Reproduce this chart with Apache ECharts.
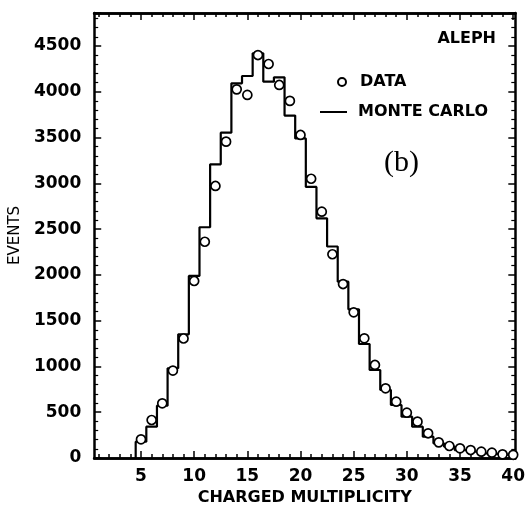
<!DOCTYPE html>
<html>
<head>
<meta charset="utf-8">
<script src="https://cdn.jsdelivr.net/npm/echarts@6/dist/echarts.min.js"></script>
<style>
  html, body { margin: 0; padding: 0; background: #fff; }
  #chart { width: 528px; height: 514px; }
</style>
</head>
<body>
<div id="chart"></div>
<script>
// charged multiplicity bins (one per integer)
const multiplicity = [5, 6, 7, 8, 9, 10, 11, 12, 13, 14, 15, 16, 17, 18, 19, 20, 21, 22,
  23, 24, 25, 26, 27, 28, 29, 30, 31, 32, 33, 34, 35, 36, 37, 38, 39, 40]
// measured events (circles)
const dataEvents = [204, 415, 597, 955, 1305, 1933, 2362, 2971, 3455, 4026, 3965, 4401, 4303, 4074,
  3900, 3528, 3050, 2690, 2225, 1900, 1591, 1307, 1016, 761, 615, 495, 397, 270, 171, 131,
  106, 87, 69, 58, 40, 35]
// monte carlo prediction (histogram)
const mcEvents = [178, 342, 571, 980, 1351, 1988, 2520, 3207, 3553, 4092, 4172, 4420, 4110, 4158,
  3740, 3490, 2960, 2618, 2310, 1926, 1624, 1245, 961, 743, 579, 451, 342, 233, 160, 124,
  87, 69, 51, 44, 36, 30]
const xLabels = [5, 10, 15, 20, 25, 30, 35, 40]
const xMinor = [1, 2, 3, 4, 5, 6, 7, 8, 9, 10, 11, 12, 13, 14, 15, 16, 17, 18, 19, 20,
  21, 22, 23, 24, 25, 26, 27, 28, 29, 30, 31, 32, 33, 34, 35, 36, 37, 38, 39, 40]

const font = 'DejaVu Sans'
const chart = echarts.init(document.getElementById('chart'), null, { renderer: 'canvas' })

// histogram outline: each bin spans n-0.5 .. n+0.5
const mcStep = [[multiplicity[0] - 0.5, 0]]
multiplicity.forEach((n, i) => {
  mcStep.push([n - 0.5, mcEvents[i]])
  mcStep.push([n + 0.5, mcEvents[i]])
})
const circles = multiplicity.map((n, i) => [n, dataEvents[i]])

const frame = { show: true, onZero: false, lineStyle: { color: '#000', width: 2.5 } }
const xBase = { type: 'value', min: 0.6, max: 40.2, splitLine: { show: false }, axisLine: frame }

const makeX = (position, major, labels) => Object.assign({}, xBase, {
  position,
  axisTick: {
    show: true, inside: true, length: major ? 7 : 4,
    lineStyle: { color: '#000', width: 1.5 },
    customValues: major ? xLabels : xMinor
  },
  axisLabel: labels ? {
    show: true, customValues: xLabels, margin: 10,
    color: '#000', fontFamily: font, fontWeight: 'bold', fontSize: 17
  } : { show: false }
})

const yBase = {
  type: 'value', min: 0, max: 4860, interval: 500,
  splitLine: { show: false }, axisLine: frame,
  axisTick: { show: true, inside: true, length: 7, lineStyle: { color: '#000', width: 1.5 } },
  minorTick: { show: true, splitNumber: 5, length: 4, lineStyle: { color: '#000', width: 1.2 } }
}

chart.setOption({
  animation: false,
  backgroundColor: '#fff',
  grid: { left: 93, right: 10, top: 13, bottom: 56 },
  xAxis: [
    Object.assign(makeX('bottom', true, true), {
      name: 'CHARGED MULTIPLICITY', nameLocation: 'middle', nameGap: 28,
      nameTextStyle: { color: '#000', fontFamily: font, fontWeight: 'bold', fontSize: 16 }
    }),
    makeX('bottom', false, false),
    makeX('top', true, false),
    makeX('top', false, false)
  ],
  yAxis: [
    Object.assign({}, yBase, {
      position: 'left',
      axisLabel: {
        show: true, showMaxLabel: false, margin: 13,
        formatter: v => String(v),
        color: '#000', fontFamily: font, fontWeight: 'bold', fontSize: 17
      },
      name: 'EVENTS', nameLocation: 'middle', nameGap: 60,
      nameTextStyle: { color: '#000', fontFamily: font, fontSize: 15 }
    }),
    Object.assign({}, yBase, { position: 'right', axisLabel: { show: false } })
  ],
  legend: [
    {
      data: ['DATA'], left: 337, top: 74, padding: 0,
      itemWidth: 8, itemHeight: 8,
      textStyle: { color: '#000', fontFamily: font, fontWeight: 'bold', fontSize: 16, padding: [0, 0, 0, 9] }
    },
    {
      data: [{ name: 'MONTE CARLO', icon: 'rect' }], left: 320, top: 104, padding: 0,
      itemWidth: 27, itemHeight: 2,
      textStyle: { color: '#000', fontFamily: font, fontWeight: 'bold', fontSize: 16, padding: [0, 0, 0, 6] }
    }
  ],
  graphic: [
    {
      type: 'text', right: 32, top: 31,
      style: { text: 'ALEPH', fill: '#000', font: 'bold 16px "DejaVu Sans"' }
    },
    {
      type: 'text', left: 384, top: 148,
      style: { text: '(b)', fill: '#000', font: '30px "Liberation Serif"' }
    }
  ],
  series: [
    {
      name: 'MONTE CARLO', type: 'line', data: mcStep,
      symbol: 'none', showSymbol: false, z: 2,
      lineStyle: { color: '#000', width: 2.2 },
      itemStyle: { color: '#000' }
    },
    {
      name: 'DATA', type: 'scatter', data: circles,
      symbol: 'circle', symbolSize: 9, z: 3,
      itemStyle: { color: '#fff', borderColor: '#000', borderWidth: 1.7, opacity: 1 }
    }
  ]
})
</script>
</body>
</html>
